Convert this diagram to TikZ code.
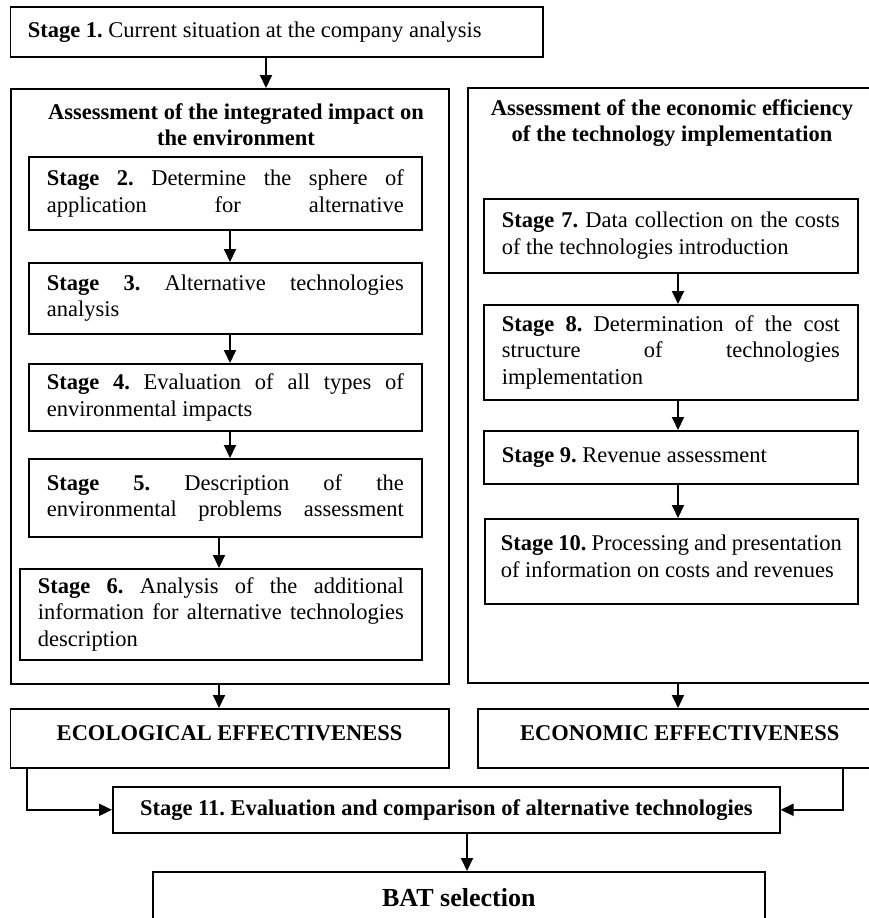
\documentclass[tikz,border=0pt]{standalone}
\usepackage{fontspec}
\setmainfont{Liberation Serif}
\usetikzlibrary{arrows.meta,calc}
\newcommand\jl[1]{\makebox[\hsize][s]{\spaceskip=0pt\xspaceskip=0pt #1}}
\begin{document}
\frenchspacing
\begin{tikzpicture}[x=1pt,y=-1pt,
  every node/.style={font=\fontsize{22.5}{26.5}\selectfont\frenchspacing},
  box/.style={draw, line width=1.6pt, anchor=north west, inner xsep=18pt, inner ysep=0pt, align=justify},
  plain/.style={draw, line width=1.6pt, anchor=north west, inner sep=0pt},
  ttl/.style={font=\bfseries\fontsize{22.5}{26}\selectfont, align=center},
  bld/.style={font=\bfseries\fontsize{22.5}{26.5}\selectfont},
  arr/.style={line width=1.9pt, -{Triangle[length=13pt,width=12pt]}}]
\useasboundingbox (0,0) rectangle (869,918);
\fill[white] (0,0) rectangle (869,918);
\clip (0,0) rectangle (869,918);

\coordinate (x266) at (266,0);
\coordinate (x230) at (230,0);
\coordinate (x219) at (219,0);
\coordinate (x678) at (678,0);
\coordinate (x27) at (27,0);
\coordinate (x843) at (843,0);
\coordinate (x467) at (467,0);

\node[box, text width=497.6pt, inner xsep=17.4pt, minimum height=50pt] (s1) at (9.6,6)
  {\textbf{Stage 1.} Current situation at the company analysis\hfill\null};

\node[plain, minimum width=438pt, minimum height=595pt] (envbox) at (10,88) {};
\node[plain, minimum width=412pt, minimum height=595pt] (ecobox) at (467,87) {};

\node[ttl] (t1) at (236,125) {Assessment of the integrated impact on\\the environment};
\node[ttl] (t2) at (672,123) {Assessment of the economic efficiency\\of the technology implementation};

\node[box, text width=357pt, minimum height=73pt] (s2) at (28,156)
  {\jl{\textbf{Stage 2.} Determine the sphere of}\\\jl{application for alternative}};
\node[box, text width=357pt, minimum height=71pt] (s3) at (28,262)
  {\jl{\textbf{Stage 3.} Alternative technologies}\\analysis};
\node[box, text width=357pt, minimum height=67pt] (s4) at (28,363)
  {\jl{\textbf{Stage 4.} Evaluation of all types of}\\environmental impacts};
\node[box, text width=357pt, minimum height=78pt] (s5) at (28,458)
  {\jl{\textbf{Stage 5.} Description of the}\\\jl{environmental problems assessment}};
\node[box, text width=366pt, minimum height=91pt] (s6) at (19,568)
  {\jl{\textbf{Stage 6.} Analysis of the additional}\\\jl{information for alternative technologies}\\description};

\node[box, text width=338pt, minimum height=74pt] (s7) at (483,198)
  {\jl{\textbf{Stage 7.} Data collection on the costs}\\of the technologies introduction};
\node[box, text width=338pt, minimum height=95pt] (s8) at (483,304)
  {\jl{\textbf{Stage 8.} Determination of the cost}\\\jl{structure of technologies}\\implementation};
\node[box, text width=338pt, minimum height=53pt] (s9) at (483,430)
  {\textbf{Stage 9.} Revenue assessment\hfill\null};
\node[box, text width=341pt, inner xsep=16pt, minimum height=85pt] (s10) at (484,518)
  {\jl{\textbf{Stage 10.} Processing and presentation}\\of information on costs and revenues\par\kern 10pt\hrule height 0pt};

\node[plain, bld, minimum width=438.4pt, minimum height=59pt, text height=15pt, text depth=11pt] (eco) at (9.6,708)
  {ECOLOGICAL EFFECTIVENESS};
\node[plain, bld, minimum width=404pt, minimum height=59pt, text height=15pt, text depth=11pt] (econ) at (477,708)
  {ECONOMIC EFFECTIVENESS};

\node[plain, bld, minimum width=667pt, minimum height=46pt] (s11) at (112,786)
  {Stage 11. Evaluation and comparison of alternative technologies};
\node[plain, font=\bfseries\fontsize{26}{30}\selectfont, minimum width=612pt, minimum height=52pt] (bat) at (152,871)
  {BAT selection};

\draw[arr] (s1.south -| x266) -- (envbox.north -| x266);
\draw[arr] (s2.south -| x230) -- (s3.north -| x230);
\draw[arr] (s3.south -| x230) -- (s4.north -| x230);
\draw[arr] (s4.south -| x230) -- (s5.north -| x230);
\draw[arr] (s5.south -| x219) -- (s6.north -| x219);
\draw[arr] (envbox.south -| x219) -- (eco.north -| x219);
\draw[arr] (s7.south -| x678) -- (s8.north -| x678);
\draw[arr] (s8.south -| x678) -- (s9.north -| x678);
\draw[arr] (s9.south -| x678) -- (s10.north -| x678);
\draw[arr] (ecobox.south -| x678) -- (econ.north -| x678);
\draw[arr] (eco.south -| x27) |- (s11.west);
\draw[arr] (econ.south -| x843) |- (s11.east);
\draw[arr] (s11.south -| x467) -- (bat.north -| x467);
\end{tikzpicture}
\end{document}
